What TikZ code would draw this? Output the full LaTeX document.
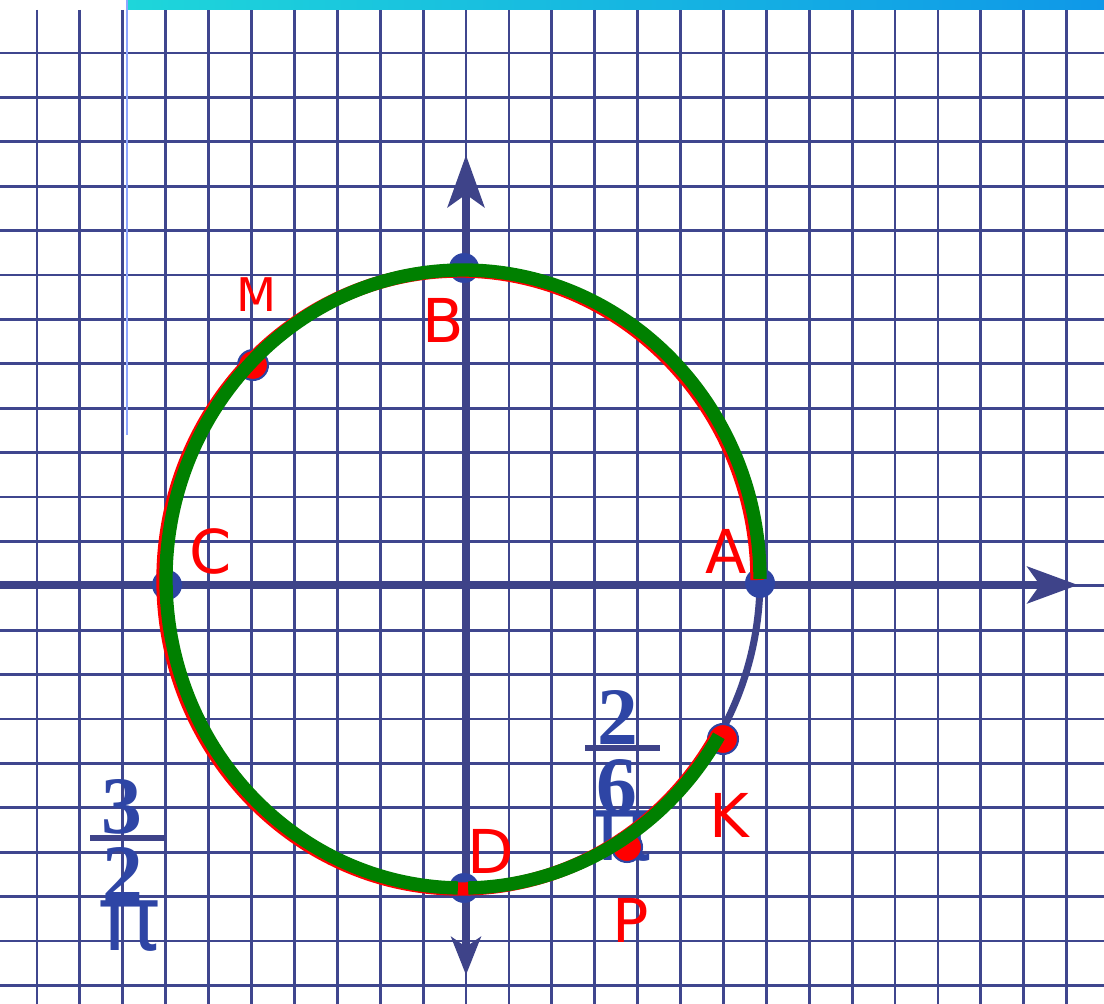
\documentclass[tikz,border=0pt]{standalone}
\usepackage{fontspec}
\usetikzlibrary{arrows.meta,calc}
\newfontfamily\lblfont{DejaVu Sans}
\newfontfamily\numfont{Liberation Serif}
\newfontfamily\pifont{Noto Sans}
\definecolor{GridBlue}{HTML}{3F468E}
\definecolor{AxisBlue}{HTML}{3E4389}
\definecolor{DotBlue}{HTML}{2E44A3}
\definecolor{NumBlue}{HTML}{2E45A5}
\definecolor{PtRed}{HTML}{FF0000}
\definecolor{ArcGreen}{HTML}{008000}
\definecolor{BarCyan}{HTML}{1ED6DA}
\definecolor{BarBlue}{HTML}{0F98E8}
\definecolor{EdgeBlue}{HTML}{8DA5FF}
\begin{document}
\begin{tikzpicture}[x=0.025cm,y=0.025cm,gridline/.style={draw=GridBlue,line width=2pt},axis/.style={draw=AxisBlue,line width=5.7pt},circ/.style={draw=AxisBlue,line width=5pt},redarc/.style={draw=PtRed,line width=9.5pt},greenarc/.style={draw=ArcGreen,line width=9.5pt},bdot/.style={circle,fill=DotBlue,inner sep=0pt,minimum size=21.3pt},rdot/.style={circle,fill=PtRed,draw=DotBlue,line width=1.5pt,inner sep=0pt,minimum size=21.3pt},lbl/.style={text=PtRed,inner sep=0pt,font=\lblfont\fontsize{43}{43}\selectfont},num/.style={text=NumBlue,inner sep=0pt,font=\numfont\bfseries\fontsize{58}{58}\selectfont},pisign/.style={text=NumBlue,inner sep=0pt,font=\pifont\bfseries\fontsize{66}{66}\selectfont},fracbar/.style={draw=AxisBlue,line width=3.6pt}]
\useasboundingbox (0,0) rectangle (1104,-1004);
\fill[white] (0,0) rectangle (1104,-1004);
% squared paper
\foreach \i in {0,...,24}{\draw[gridline] ({37+42.9*\i},-10) -- ({37+42.9*\i},-1004);}
\foreach \j in {0,...,21}{\draw[gridline] (0,{-53-44.4*\j}) -- (1104,{-53-44.4*\j});}
\shade[left color=BarCyan,right color=BarBlue] (128,0) rectangle (1104,-10);
\draw[EdgeBlue,line width=1.4pt] (127,0) -- (127,-435);
% axes
\coordinate (O) at (463,-579);
\coordinate (xl) at (0,-585);
\coordinate (xr) at (1078,-585);
\coordinate (yb) at (466,-975);
\coordinate (yt) at (466,-155);
\draw[axis,-{Stealth[length=36pt,width=26pt,inset=9pt]}] (xl) -- (xr);
\draw[axis,{Stealth[length=27pt,width=21pt,inset=7pt]}-{Stealth[length=37pt,width=26pt,inset=9pt]}] (yb) -- (yt);
\draw[circ] (O) ellipse [x radius=297,y radius=309];
% angle labels
\node[num] (n2) at (618,-717) {2};
\draw[fracbar] (585,-748) -- (660,-748);
\node[num] (d6) at (617,-787) {6};
\node[pisign] (pi1) at (623,-836) {π};
\node[num] (n3) at (122,-807) {3};
\draw[fracbar] (90,-838) -- (165,-838);
\node[num] (d2) at (123,-874) {2};
\node[pisign] (pi2) at (130,-926) {π};
% points
\node[bdot] (A) at (760,-583) {};
\node[bdot] (B) at (464,-268) {};
\node[bdot] (C) at (167,-585) {};
\node[bdot] (D) at (464,-888) {};
\node[rdot] (M) at (253,-365) {};
\node[rdot] (K) at (723,-739) {};
\node[rdot] (P) at (627,-847) {};
% path of the moving point
\draw[redarc] ($(O)+(-3,-1)$) ++(0:297 and 309) arc[start angle=0,end angle=330,x radius=297,y radius=309];
\draw[greenarc] (O) ++(0:297 and 309) arc[start angle=0,end angle=269,x radius=297,y radius=309];
\draw[greenarc] (O) ++(271:297 and 309) arc[start angle=271,end angle=329.5,x radius=297,y radius=309];
\node[lbl] (lA) at (726,-551) {A};
\node[lbl] (lB) at (443,-320) {B};
\node[lbl] (lC) at (211,-551) {C};
\node[lbl] (lD) at (491,-851) {D};
\node[lbl,font=\lblfont\fontsize{33}{33}\selectfont] (lM) at (257,-295) {M};
\node[lbl] (lK) at (729,-815) {K};
\node[lbl] (lP) at (631,-920) {P};
\end{tikzpicture}
\end{document}
